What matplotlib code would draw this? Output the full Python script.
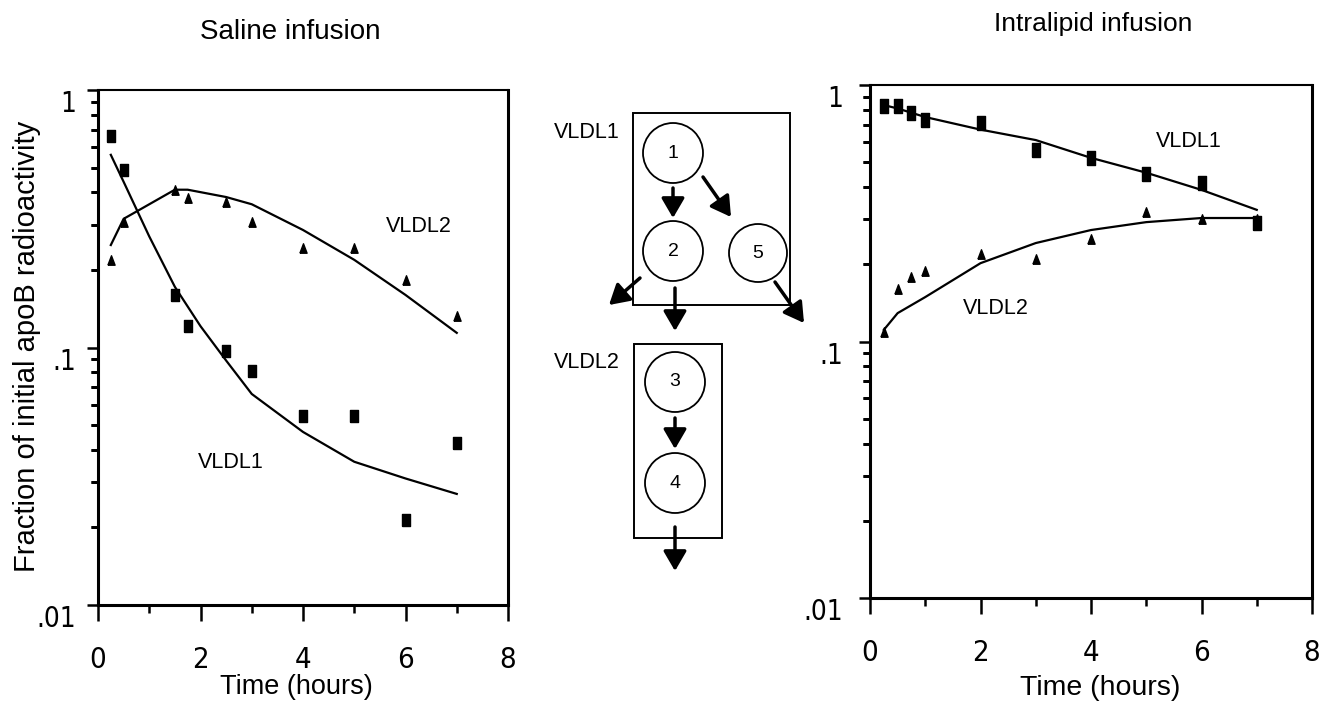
import matplotlib
matplotlib.use('Agg')
import matplotlib.pyplot as plt
from matplotlib import font_manager
from matplotlib.font_manager import FontProperties
from matplotlib.patches import Ellipse, Rectangle
from matplotlib.ticker import FixedLocator, NullFormatter
from matplotlib.transforms import blended_transform_factory

#---------- datos ----------#
# Saline infusion
sal_t = [0.25, 0.5, 1.5, 1.75, 2.5, 3, 4, 5, 6, 7]
sal_vldl1 = [0.66, 0.49, 0.16, 0.121, 0.097, 0.081, 0.054, 0.054, 0.0214, 0.0426]
sal_vldl2 = [0.219, 0.307, 0.41, 0.38, 0.367, 0.307, 0.243, 0.243, 0.183, 0.132]
sal_fit1_t = [0.25, 0.5, 1, 1.5, 2, 2.5, 3, 4, 5, 6, 7]
sal_fit1 = [0.56, 0.44, 0.27, 0.172, 0.121, 0.089, 0.066, 0.047, 0.036, 0.031, 0.027]
sal_fit2_t = [0.25, 0.5, 1.5, 1.75, 2.5, 3, 4, 5, 6, 7]
sal_fit2 = [0.25, 0.316, 0.41, 0.41, 0.384, 0.36, 0.286, 0.219, 0.16, 0.114]

# Intralipid infusion
int_t = [0.25, 0.5, 0.75, 1, 2, 3, 4, 5, 6, 7]
int_vldl1 = [0.83, 0.83, 0.78, 0.73, 0.71, 0.56, 0.52, 0.45, 0.415, 0.29]
int_vldl2 = [0.109, 0.16, 0.179, 0.188, 0.22, 0.21, 0.25, 0.32, 0.30, 0.30]
int_fit_t = [0.25, 0.5, 1, 2, 3, 4, 5, 6, 7]
int_fit1 = [0.835, 0.81, 0.75, 0.67, 0.61, 0.52, 0.455, 0.39, 0.326]
int_fit2 = [0.111, 0.129, 0.149, 0.202, 0.242, 0.272, 0.292, 0.303, 0.303]

x_ticks = [0, 2, 4, 6, 8]
x_minor = [1, 3, 5, 7]
y_ticks = [0.01, 0.1, 1]
y_ticklabels = ['.01', '.1', '1']
y_minor = [k * 10.0 ** e for e in (-2, -1) for k in range(2, 10)]

#---------- fuentes ----------#
nombres = {f.name for f in font_manager.fontManager.ttflist}
SANS = 'Liberation Sans' if 'Liberation Sans' in nombres else 'DejaVu Sans'
plt.rcParams['font.family'] = [SANS, 'DejaVu Sans']

# fuente estrecha para los numeros de los ejes (si existe)
narrow_file = None
for clave in ['LiberationSansNarrow-Regular', 'DejaVuSansCondensed.ttf', 'Condensed-Regular']:
    for f in font_manager.fontManager.ttflist:
        if clave in f.fname:
            narrow_file = f.fname
            break
    if narrow_file:
        break


def fuente_num(size):
    if narrow_file:
        return FontProperties(fname=narrow_file, size=size)
    return FontProperties(family=SANS, size=size)


# marcadores: rectangulo alto y triangulo estrecho
RECT = [(-0.33, -0.5), (0.33, -0.5), (0.33, 0.5), (-0.33, 0.5), (-0.33, -0.5)]
TRI = [(-0.38, -0.5), (0.38, -0.5), (0, 0.5), (-0.38, -0.5)]

W, H = 1319, 707
fig = plt.figure(figsize=(W / 100, H / 100), dpi=100)


def ejes(box, ypad):
    ax = fig.add_axes(box)
    ax.set_yscale('log')
    ax.set_xlim(0, 8)
    ax.set_ylim(0.01, 1)
    ax.xaxis.set_major_locator(FixedLocator(x_ticks))
    ax.xaxis.set_minor_locator(FixedLocator(x_minor))
    ax.yaxis.set_major_locator(FixedLocator(y_ticks))
    ax.yaxis.set_minor_locator(FixedLocator(y_minor))
    ax.yaxis.set_minor_formatter(NullFormatter())
    ax.set_yticklabels(y_ticklabels)
    ax.set_xticklabels([str(v) for v in x_ticks])
    for s in ax.spines.values():
        s.set_linewidth(2.2)
    ax.spines['top'].set_linewidth(1.5)
    ax.tick_params(axis='x', which='major', direction='out', length=11.5, width=1.8, pad=18)
    ax.tick_params(axis='x', which='minor', direction='out', length=5.5, width=1.8)
    ax.tick_params(axis='y', which='major', direction='out', length=8, width=1.8, pad=ypad)
    ax.tick_params(axis='y', which='minor', direction='out', length=5, width=2)
    # marcas menores del eje y dibujadas tambien a mano (siempre visibles)
    trans = blended_transform_factory(ax.transAxes, ax.transData)
    largo = 7 / (box[2] * W)
    for v in y_minor:
        ax.plot([-largo, 0], [v, v], transform=trans, color='black', lw=2,
                clip_on=False, solid_capstyle='butt')
    for lab in ax.get_xticklabels():
        lab.set_fontproperties(fuente_num(21))
    for lab in ax.get_yticklabels():
        lab.set_fontproperties(fuente_num(20))
        lab.set_va('top')
    return ax


# ---------- Saline ----------
ax1 = ejes([98 / W, 1 - 605 / H, 410 / W, 515 / H], 8)
ax1.plot(sal_fit1_t, sal_fit1, color='black', lw=1.6)
ax1.plot(sal_fit2_t, sal_fit2, color='black', lw=1.6)
ax1.plot(sal_t, sal_vldl1, ls='none', marker=RECT, ms=8, color='black')
ax1.plot(sal_t, sal_vldl2, ls='none', marker=TRI, ms=6.8, color='black')
ax1.text(6.27, 0.296, 'VLDL2', fontsize=15.5, ha='center', va='center')
ax1.text(2.6, 0.0359, 'VLDL1', fontsize=15.5, ha='center', va='center')

# ---------- Intralipid ----------
ax2 = ejes([870 / W, 1 - 598 / H, 442 / W, 513 / H], 11.5)
ax2.plot(int_fit_t, int_fit1, color='black', lw=1.6)
ax2.plot(int_fit_t, int_fit2, color='black', lw=1.6)
ax2.plot(int_t, int_vldl2, ls='none', marker=TRI, ms=6.8, color='black')
ax2.plot(int_t, int_vldl1, ls='none', marker=RECT, ms=9.5, color='black')
ax2.text(5.77, 0.6, 'VLDL1', fontsize=15.5, ha='center', va='center')
ax2.text(2.28, 0.135, 'VLDL2', fontsize=15.5, ha='center', va='center')

# ---------- textos de la figura ----------
fig.text(290 / W, 1 - 32 / H, 'Saline infusion', fontsize=20, ha='center', va='center')
fig.text(1093 / W, 1 - 24 / H, 'Intralipid infusion', fontsize=19, ha='center', va='center')
fig.text(296 / W, 1 - 687 / H, 'Time (hours)', fontsize=19.5, ha='center', va='center')
fig.text(1100 / W, 1 - 688 / H, 'Time (hours)', fontsize=20.5, ha='center', va='center')
fig.text(27 / W, 1 - 346 / H, 'Fraction of initial apoB radioactivity', fontsize=21,
         rotation=90, ha='center', va='center')

# ---------- esquema del modelo (coordenadas en pixeles) ----------
axd = fig.add_axes([0, 0, 1, 1])
axd.set_xlim(0, W)
axd.set_ylim(H, 0)
axd.axis('off')
axd.patch.set_alpha(0)

axd.add_patch(Rectangle((633, 113), 157, 192, fill=False, lw=1.4, ec='black'))
axd.add_patch(Rectangle((634, 344), 88, 194, fill=False, lw=1.4, ec='black'))

circulos = [('1', 673, 153, 30), ('2', 673, 251, 30), ('5', 758, 253, 29),
            ('3', 675, 382, 30), ('4', 675, 483, 30)]
for num, cx, cy, r in circulos:
    axd.add_patch(Ellipse((cx, cy), 2 * r, 2 * r, fill=False, lw=1.3, ec='black'))
    axd.text(cx, cy, num, fontsize=14, ha='center', va='center')

flechas = [((673, 188), (673, 218)), ((703, 177), (731, 217)),
           ((640, 278), (609, 305)), ((675, 288), (675, 331)),
           ((775, 282), (804, 323)), ((675, 418), (675, 449)),
           ((675, 527), (675, 571))]
for ini, fin in flechas:
    axd.annotate('', xy=fin, xytext=ini,
                 arrowprops=dict(arrowstyle='-|>,head_length=0.6,head_width=0.35',
                                 lw=2.5, color='black', shrinkA=0, shrinkB=0,
                                 mutation_scale=20))

axd.text(587, 132, 'VLDL1', fontsize=15.5, ha='center', va='center')
axd.text(587, 362, 'VLDL2', fontsize=15.5, ha='center', va='center')

plt.savefig('out.png', dpi=100)
plt.close()
